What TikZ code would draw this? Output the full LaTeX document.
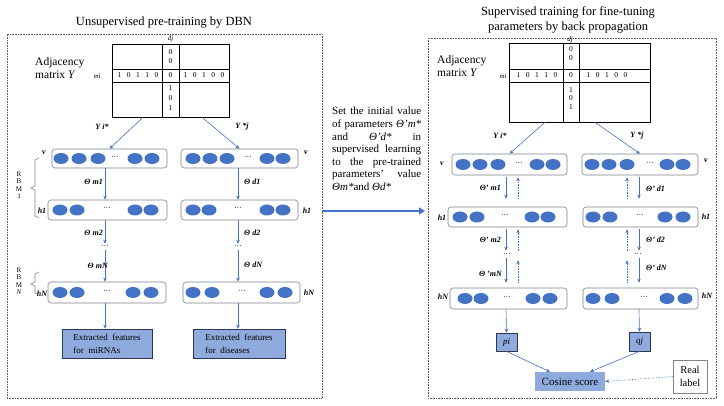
\documentclass[tikz,border=0pt]{standalone}
\usepackage{fontspec}
\setmainfont{Liberation Serif}
\usetikzlibrary{arrows.meta,shapes.geometric}
\definecolor{eblue}{RGB}{68,114,196}
\definecolor{fblue}{RGB}{143,170,220}
\definecolor{lgray}{RGB}{125,130,140}
\definecolor{dbord}{RGB}{45,55,75}
\definecolor{pgray}{RGB}{95,95,95}
\newcommand\mkLayerBox[7]{%
  \node[layer, minimum width=#4pt, minimum height=#5pt] (#1) at (#2,#3) {};
  \foreach \xx [count=\ii] in {#6} \node[edot] (#1e\ii) at (\xx,#3) {};
  \node[ldots] (#1d) at (#7,#3-1) {···};
}
\tikzset{
  panel/.style={draw=pgray, densely dotted, line width=0.6pt, inner sep=0},
  mat/.style={draw=black, line width=0.6pt, inner sep=0},
  layer/.style={draw=lgray, rounded corners=3pt, line width=0.6pt, inner sep=0},
  edot/.style={ellipse, fill=eblue, minimum width=15pt, minimum height=11pt, inner sep=0},
  ldots/.style={font=\fontsize{8}{9}\selectfont, inner sep=0},
  vdots/.style={font=\fontsize{8}{9}\selectfont, inner sep=1.5pt},
  arr/.style={draw=eblue, line width=0.6pt, -{Stealth[length=4pt,width=3.5pt]}},
  darr/.style={arr, densely dotted},
  bigarr/.style={draw=eblue, line width=2.6pt, -{Triangle[length=6pt,width=7pt]}},
  ttl/.style={font=\fontsize{12.5}{14.5}\selectfont, inner sep=0},
  adj/.style={font=\fontsize{11.5}{13}\selectfont, align=left, inner sep=0, anchor=west},
  dig/.style={font=\fontsize{7.5}{8}\selectfont, inner sep=0},
  mlab/.style={font=\fontsize{7}{8}\selectfont\itshape, inner sep=0},
  lab/.style={font=\fontsize{8}{9}\selectfont\bfseries\itshape, inner sep=0},
  rbm/.style={font=\fontsize{7}{8}\selectfont, align=center, inner sep=0},
  ext/.style={draw=dbord, fill=fblue, line width=0.7pt, font=\fontsize{9}{13}\selectfont, align=left, inner sep=0},
  pq/.style={draw=dbord, fill=fblue, line width=0.7pt, font=\fontsize{9}{10}\selectfont\itshape, inner sep=0},
  brk/.style={draw=lgray, line width=0.6pt},
}
\newcommand\dsp{\hskip 5.5pt}
\begin{document}
\begin{tikzpicture}[x=1pt,y=-1pt]
\useasboundingbox (0,0) rectangle (724,406);
\fill[white] (0,0) rectangle (724,406);

% ---------- panels and titles ----------
\node[panel, minimum width=315pt, minimum height=364pt] (LP) at (164.5,216) {};
\node[panel, minimum width=288pt, minimum height=360pt] (RP) at (572,218) {};
\node[ttl] (LT) at (164,23) {Unsupervised pre-training by DBN};
\node[ttl, align=center] (RT) at (568,20) {Supervised training for fine-tuning\\parameters by back propagation};

% ---------- left matrix ----------
\node[adj] (LA) at (35,68) {Adjacency\\matrix \textit{Y}};
\node[mat, minimum width=117pt, minimum height=73pt] (LM) at (170.5,80.5) {};
\node[mat, minimum width=17pt, minimum height=73pt] (LMc) at (170.5,80.5) {};
\node[mat, minimum width=117pt, minimum height=13pt] (LMr) at (170.5,75.5) {};
\node[mlab] (Ldj) at (170.5,39) {dj};
\node[mlab] (Lmi) at (97,76) {mi};
\node[dig] (Lr1) at (138,75.5) {1\dsp0\dsp1\dsp1\dsp0};
\node[dig] (Lr2) at (170.5,75.5) {0};
\node[dig] (Lr3) at (204,75.5) {1\dsp0\dsp1\dsp0\dsp0};
\node[dig] (Lc1) at (170.5,52) {0};
\node[dig] (Lc2) at (170.5,61) {0};
\node[dig] (Lc3) at (170.5,88) {1};
\node[dig] (Lc4) at (170.5,98) {0};
\node[dig] (Lc5) at (170.5,108) {1};

% ---------- left panel layers ----------
\mkLayerBox{Lv}{109.5}{158.5}{115}{19}{61,79,98,135,152}{115}
\mkLayerBox{Lh}{107.5}{210}{119}{20}{60,77,135,151}{107}
\mkLayerBox{LN}{107}{292.5}{118}{21}{60,77,133,151}{107}
\mkLayerBox{Rv}{239.5}{158.5}{117}{19}{193,210,227,267,283}{248}
\mkLayerBox{Rh}{239.5}{210}{117}{20}{193,209,267,283}{238}
\mkLayerBox{RN}{241.5}{292.5}{117}{21}{193,212,267,285}{242}

\node[lab] (Lvl) at (44,153) {v};
\node[lab] (Rvl) at (306,153) {v};
\node[lab] (Lhl) at (42,211) {h1};
\node[lab] (Rhl) at (307,211) {h1};
\node[lab] (LNl) at (42,294) {hN};
\node[lab] (RNl) at (309,293) {hN};

\node[lab] (LY) at (102,127) {Y i*};
\node[lab] (RY) at (242,127) {Y *j};
\draw[arr] ([xshift=-27.5pt]LM.south) -- (Lv.north);
\draw[arr] ([xshift=31.5pt]LM.south) -- (Rv.north);

\coordinate (xa) at (105,0);
\coordinate (xb) at (238,0);
\node[vdots] (Ldd) at (105,247) {···};
\node[vdots] (Rdd) at (238,247) {···};
\node[ext, minimum width=90pt, minimum height=29pt] (Lext) at (107,343.5) {Extracted\ \ features\\for\ \ miRNAs\hspace{17pt}};
\node[ext, minimum width=92pt, minimum height=29pt] (Rext) at (239,343.5) {Extracted\ \ features\\for\ \ diseases\hspace{15pt}};

\draw[arr] (Lv.south -| xa) -- (Lh.north -| xa);
\draw[arr] (Lh.south -| xa) -- (Ldd.north);
\draw[arr] (Ldd.south) -- (LN.north -| xa);
\draw[arr] (LN.south -| xa) -- (Lext.north -| xa);
\draw[arr] (Rv.south -| xb) -- (Rh.north -| xb);
\draw[arr] (Rh.south -| xb) -- (Rdd.north);
\draw[arr] (Rdd.south) -- (RN.north -| xb);
\draw[arr] (RN.south -| xb) -- (Rext.north -| xb);

\node[lab, anchor=east] (Lt1) at (103,182) {Θ m1};
\node[lab, anchor=east] (Lt2) at (103,233) {Θ m2};
\node[lab, anchor=east] (Lt3) at (108,266) {Θ mN};
\node[lab, anchor=west] (Rt1) at (244,182) {Θ d1};
\node[lab, anchor=west] (Rt2) at (244,233) {Θ d2};
\node[lab, anchor=west] (Rt3) at (244,265) {Θ dN};

% RBM brackets
\draw[brk] (39,158) -- (35,160) -- (35,186) -- (31,188) -- (35,190) -- (35,216) -- (39,218);
\draw[brk] (39,272) -- (35,274) -- (35,282) -- (31,284) -- (35,286) -- (35,293) -- (39,295);
\node[rbm] (R1) at (19,185) {R\\[-0.5pt]B\\[-0.5pt]M\\[-0.5pt]1};
\node[rbm] (R2) at (19,281) {R\\[-0.5pt]B\\[-0.5pt]M\\[-0.5pt]\textit{N}};

% ---------- middle ----------
\node[inner sep=0, anchor=north west] (MT) at (332,107) {\parbox{89pt}{\fontsize{11}{12.6}\selectfont
\hyphenpenalty=10000 \exhyphenpenalty=10000 \tolerance=10000 \noindent
Set~the~initial~value\linebreak
of~parameters~\textit{Θ’m*}\linebreak
and~\textit{Θ’d*}~in\linebreak
supervised~learning\linebreak
to~the~\mbox{pre-trained}\linebreak
parameters’~value\linebreak
\textit{Θm*}and \textit{Θd*}}};
\coordinate (ba1) at (322,211);
\coordinate (ba2) at (425,211);
\draw[bigarr] (ba1) -- (ba2);

% ---------- right matrix ----------
\node[adj] (RA) at (437,66) {Adjacency\\matrix \textit{Y}};
\node[mat, minimum width=141pt, minimum height=79pt] (RM) at (579.5,82.5) {};
\node[mat, minimum width=16pt, minimum height=79pt] (RMc) at (571,82.5) {};
\node[mat, minimum width=141pt, minimum height=13pt] (RMr) at (579.5,75.5) {};
\node[mlab] (Rdj) at (570,40) {dj};
\node[mlab] (Rmi) at (503,76) {mi};
\node[dig] (Sr1) at (537,75.5) {1\dsp0\dsp1\dsp1\dsp0};
\node[dig] (Sr2) at (571,75.5) {0};
\node[dig] (Sr3) at (607,75.5) {1\dsp0\dsp1\dsp0\dsp0};
\node[dig] (Sc1) at (571,49) {0};
\node[dig] (Sc2) at (571,58) {0};
\node[dig] (Sc3) at (571,90) {1};
\node[dig] (Sc4) at (571,98.5) {0};
\node[dig] (Sc5) at (571,107) {1};

% ---------- right panel layers ----------
\mkLayerBox{Pv}{509.5}{164.5}{115}{21}{463,480,498,537,553}{519}
\mkLayerBox{Ph}{507.5}{217}{119}{20}{460,477,532,548}{505}
\mkLayerBox{PN}{508.5}{298.5}{117}{21}{465,481,533,550}{507}
\mkLayerBox{Qv}{640}{164.5}{116}{21}{592,609,627,667,683}{650}
\mkLayerBox{Qh}{640.5}{217}{115}{20}{593,610,665,683}{640}
\mkLayerBox{QN}{640.5}{298.5}{115}{21}{593,612,667,685}{644}

\node[lab] (Pvl) at (442,164) {v};
\node[lab] (Qvl) at (706,161) {v};
\node[lab] (Phl) at (442,218) {h1};
\node[lab] (Qhl) at (706,217) {h1};
\node[lab] (PNl) at (443,297) {hN};
\node[lab] (QNl) at (707,296) {hN};

\node[lab] (PY) at (500,136) {Y i*};
\node[lab] (QY) at (637,136) {Y *j};
\draw[arr] ([xshift=-34.5pt]RM.south) -- (Pv.north);
\draw[arr] ([xshift=15.5pt]RM.south) -- (Qv.north);

\coordinate (xs) at (506,0);
\coordinate (xd) at (518,0);
\coordinate (xe) at (627,0);
\coordinate (xf) at (639,0);
\node[vdots] (Pdd) at (507,255) {···};
\node[vdots] (Qdd) at (638,255) {···};

\draw[arr, shorten <=2pt, shorten >=8pt] (Pv.south -| xs) -- (Ph.north -| xs);
\draw[darr, shorten <=8pt, shorten >=2pt] (Ph.north -| xd) -- (Pv.south -| xd);
\draw[arr, shorten <=2pt, shorten >=1pt] (Ph.south -| xs) -- (Pdd.north -| xs);
\draw[darr, shorten <=1pt, shorten >=2pt] (Pdd.north -| xd) -- (Ph.south -| xd);
\draw[arr, shorten <=0pt, shorten >=5pt] (Pdd.south -| xs) -- (PN.north -| xs);
\draw[darr, shorten <=5pt, shorten >=2pt] (PN.north -| xd) -- (Pdd.south -| xd);

\draw[darr, shorten <=8pt, shorten >=2pt] (Qh.north -| xe) -- (Qv.south -| xe);
\draw[arr, shorten <=2pt, shorten >=8pt] (Qv.south -| xf) -- (Qh.north -| xf);
\draw[darr, shorten <=1pt, shorten >=2pt] (Qdd.north -| xe) -- (Qh.south -| xe);
\draw[arr, shorten <=2pt, shorten >=1pt] (Qh.south -| xf) -- (Qdd.north -| xf);
\draw[darr, shorten <=5pt, shorten >=2pt] (QN.north -| xe) -- (Qdd.south -| xe);
\draw[arr, shorten <=0pt, shorten >=5pt] (Qdd.south -| xf) -- (QN.north -| xf);

\node[lab, anchor=east] (Pt1) at (501,188) {Θ’ m1};
\node[lab, anchor=east] (Pt2) at (501,240) {Θ’ m2};
\node[lab, anchor=east] (Pt3) at (502,274) {Θ ’mN};
\node[lab, anchor=west] (Qt1) at (646,189) {Θ’ d1};
\node[lab, anchor=west] (Qt2) at (646,240) {Θ’ d2};
\node[lab, anchor=west] (Qt3) at (646,268) {Θ’ dN};

% outputs
\node[pq, minimum width=21pt, minimum height=18pt] (pi) at (506.5,342) {pi};
\node[pq, minimum width=21pt, minimum height=19pt] (qj) at (639.5,341.5) {qj};
\node[fill=fblue, minimum width=70pt, minimum height=19pt, inner sep=0, font=\fontsize{11}{12}\selectfont] (cs) at (570,381.5) {Cosine score};
\node[draw=lgray, line width=0.6pt, minimum width=34pt, minimum height=33pt, inner sep=0, align=center, font=\fontsize{10.5}{13.5}\selectfont] (rl) at (690,376.5) {Real\\label};

\draw[arr] (PN.south -| xs) -- (pi.north);
\draw[arr] (QN.south -| xf) -- (qj.north);
\draw[arr] (pi.south) -- ([xshift=-20pt]cs.north);
\draw[arr] (qj.south) -- ([xshift=20pt]cs.north);
\draw[darr] (rl.west) -- (cs.east);
\end{tikzpicture}
\end{document}
